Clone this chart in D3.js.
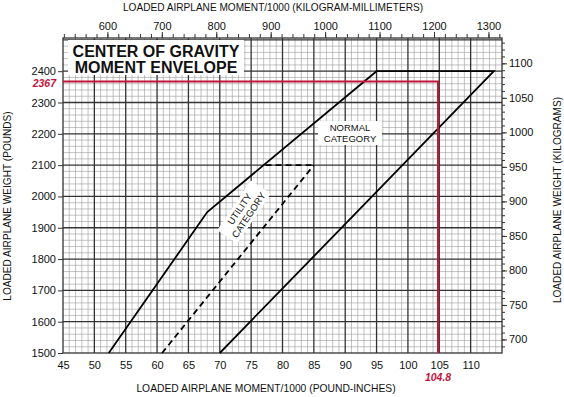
<!DOCTYPE html>
<html>
<head>
<meta charset="utf-8">
<script src="https://cdn.jsdelivr.net/npm/d3@7"></script>
<style>
  body { margin: 0; background: #fff; }
  svg text { font-family: "Liberation Sans", Arial, sans-serif; fill: #111; }
</style>
</head>
<body>
<svg width="564" height="397"></svg>
<script>
var margin = {left: 63, right: 62, top: 38, bottom: 44};
var width = 564, height = 397;

// envelope data (moment/1000 lb-in, weight lb)
var normalEnvelope = [[52.3, 1500], [68, 1950], [95, 2400], [113.7, 2400], [70, 1500]];
var utilityAft = [[60.8, 1500], [85, 2100]];
var utilityTop = [[77.3, 2100], [85, 2100]];
var example = {moment: 104.8, weight: 2367};

var momentTicks = [45, 50, 55, 60, 65, 70, 75, 80, 85, 90, 95, 100, 105, 110];
var weightTicks = [1500, 1600, 1700, 1800, 1900, 2000, 2100, 2200, 2300, 2400];
var kgmmTicks = [600, 700, 800, 900, 1000, 1100, 1200, 1300];
var kgTicks = [700, 750, 800, 850, 900, 950, 1000, 1050, 1100];

var LB_PER_KG = 2.20462;
var KGMM_PER_LBIN = 11.521;

var svg = d3.select("svg");
var x = d3.scaleLinear().domain([45, 115]).range([margin.left, width - margin.right]);
var y = d3.scaleLinear().domain([1500, 2506]).range([height - margin.bottom, margin.top]);
var xTop = d3.scaleLinear().domain([45 * KGMM_PER_LBIN, 115 * KGMM_PER_LBIN]).range(x.range());
var yRight = d3.scaleLinear().domain([1500 / LB_PER_KG, 2506 / LB_PER_KG]).range(y.range());
var fmt = d3.format("d");

var grid = svg.append("g");
// minor grid
d3.range(46, 115, 1).filter(function(d) { return d % 5 != 0; }).forEach(function(d) {
  grid.append("line").attr("x1", x(d)).attr("x2", x(d)).attr("y1", y.range()[0]).attr("y2", y.range()[1])
    .attr("stroke", "#9a9a9a").attr("stroke-width", 0.6);
});
d3.range(1520, 2506, 20).filter(function(d) { return d % 100 != 0; }).forEach(function(d) {
  grid.append("line").attr("y1", y(d)).attr("y2", y(d)).attr("x1", x.range()[0]).attr("x2", x.range()[1])
    .attr("stroke", "#9a9a9a").attr("stroke-width", 0.6);
});
// major grid
d3.range(50, 115, 5).forEach(function(d) {
  grid.append("line").attr("x1", x(d)).attr("x2", x(d)).attr("y1", y.range()[0]).attr("y2", y.range()[1])
    .attr("stroke", "#333").attr("stroke-width", 1.3);
});
d3.range(1600, 2506, 100).forEach(function(d) {
  grid.append("line").attr("y1", y(d)).attr("y2", y(d)).attr("x1", x.range()[0]).attr("x2", x.range()[1])
    .attr("stroke", "#333").attr("stroke-width", 1.3);
});
svg.append("rect").attr("x", x.range()[0]).attr("y", y.range()[1])
  .attr("width", x.range()[1] - x.range()[0]).attr("height", y.range()[0] - y.range()[1])
  .attr("fill", "none").attr("stroke", "#333").attr("stroke-width", 1.3);

// axes
svg.append("g").attr("transform", "translate(0," + y.range()[0] + ")")
  .call(d3.axisBottom(x).tickValues(momentTicks).tickSize(0).tickPadding(8).tickFormat(fmt));
svg.append("g").attr("transform", "translate(" + x.range()[0] + ",0)")
  .call(d3.axisLeft(y).tickValues(weightTicks).tickSize(5).tickPadding(2).tickFormat(fmt));
svg.append("g").attr("transform", "translate(0," + y.range()[1] + ")")
  .call(d3.axisTop(xTop).tickValues(d3.range(520, 1325, 20)).tickSize(4).tickFormat(""));
svg.append("g").attr("transform", "translate(0," + y.range()[1] + ")")
  .call(d3.axisTop(xTop).tickValues(kgmmTicks).tickSize(6).tickPadding(2).tickFormat(fmt));
svg.append("g").attr("transform", "translate(" + x.range()[1] + ",0)")
  .call(d3.axisRight(yRight).tickValues(d3.range(690, 1140, 10)).tickSize(3).tickFormat(""));
svg.append("g").attr("transform", "translate(" + x.range()[1] + ",0)")
  .call(d3.axisRight(yRight).tickValues(kgTicks).tickSize(5).tickPadding(2).tickFormat(fmt));
svg.selectAll(".domain").remove();
svg.selectAll(".tick line").attr("stroke", "#333");
svg.selectAll(".tick text").attr("font-size", 11).attr("fill", "#111")
  .attr("font-family", "Liberation Sans, Arial, sans-serif");

// envelope
var line = d3.line().x(function(d) { return x(d[0]); }).y(function(d) { return y(d[1]); });
svg.append("path").attr("d", line(normalEnvelope)).attr("fill", "none")
  .attr("stroke", "#000").attr("stroke-width", 1.8);
svg.append("path").attr("d", line(utilityAft)).attr("fill", "none")
  .attr("stroke", "#000").attr("stroke-width", 1.8).attr("stroke-dasharray", "6,4");
svg.append("path").attr("d", line(utilityTop)).attr("fill", "none")
  .attr("stroke", "#000").attr("stroke-width", 1.8).attr("stroke-dasharray", "6,4");

// example red lines
var red = "#c0143c";
svg.append("path").attr("d", line([[45, example.weight], [example.moment, example.weight], [example.moment, 1500]]))
  .attr("fill", "none").attr("stroke", red).attr("stroke-width", 2);
svg.append("text").attr("x", 56).attr("y", y(example.weight) + 5).attr("text-anchor", "end")
  .attr("font-size", 10.5).attr("font-weight", "bold").attr("font-style", "italic")
  .style("fill", red).text(example.weight);
svg.append("text").attr("x", x(example.moment)).attr("y", 381).attr("text-anchor", "middle")
  .attr("font-size", 10.5).attr("font-weight", "bold").attr("font-style", "italic")
  .style("fill", red).text(example.moment);

// title box
svg.append("rect").attr("x", 68).attr("y", 40).attr("width", 176).attr("height", 35).attr("fill", "#fff");
svg.append("text").attr("x", 156).attr("y", 57).attr("text-anchor", "middle")
  .attr("font-size", 16).attr("font-weight", "bold").text("CENTER OF GRAVITY");
svg.append("text").attr("x", 156).attr("y", 73).attr("text-anchor", "middle")
  .attr("font-size", 16).attr("font-weight", "bold").text("MOMENT ENVELOPE");

// category labels
svg.append("rect").attr("x", 318).attr("y", 121).attr("width", 64).attr("height", 24).attr("fill", "#fff");
svg.append("text").attr("x", 350).attr("y", 131).attr("text-anchor", "middle").attr("font-size", 9.5).text("NORMAL");
svg.append("text").attr("x", 350).attr("y", 142).attr("text-anchor", "middle").attr("font-size", 9.5).text("CATEGORY");
var ut = svg.append("g").attr("transform", "translate(244,212) rotate(-56)");
ut.append("rect").attr("x", -30).attr("y", -12).attr("width", 60).attr("height", 24).attr("fill", "#fff");
ut.append("text").attr("x", 0).attr("y", -2).attr("text-anchor", "middle").attr("font-size", 9.5).text("UTILITY");
ut.append("text").attr("x", 0).attr("y", 9).attr("text-anchor", "middle").attr("font-size", 9.5).text("CATEGORY");

// axis titles
svg.append("text").attr("x", 273).attr("y", 11).attr("text-anchor", "middle").attr("font-size", 10.1)
  .text("LOADED AIRPLANE MOMENT/1000 (KILOGRAM-MILLIMETERS)");
svg.append("text").attr("x", 266).attr("y", 392).attr("text-anchor", "middle").attr("font-size", 10.3)
  .text("LOADED AIRPLANE MOMENT/1000 (POUND-INCHES)");
svg.append("text").attr("transform", "translate(11,206) rotate(-90)").attr("text-anchor", "middle")
  .attr("font-size", 10.1).text("LOADED AIRPLANE WEIGHT (POUNDS)");
svg.append("text").attr("transform", "translate(561,200) rotate(-90)").attr("text-anchor", "middle")
  .attr("font-size", 10.1).text("LOADED AIRPLANE WEIGHT (KILOGRAMS)");
</script>
</body>
</html>
